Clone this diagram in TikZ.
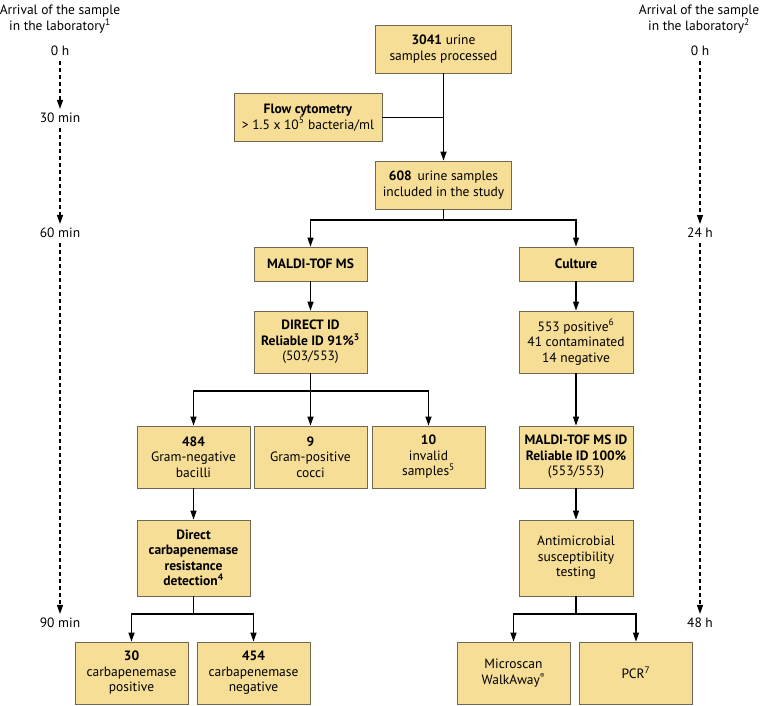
\documentclass[tikz,border=0pt]{standalone}
\usepackage{fontspec}
\setmainfont{PT Sans}
\usetikzlibrary{arrows.meta}
\definecolor{boxfill}{RGB}{246,222,150}
\definecolor{boxline}{RGB}{110,104,84}
\begin{document}
\begin{tikzpicture}[x=1pt,y=-1pt,
  every node/.style={font=\fontsize{13.5}{15.5}\selectfont, inner sep=0pt},
  box/.style={draw=boxline, line width=0.8pt, fill=boxfill, align=center, minimum width=113pt},
  arr/.style={line width=1.2pt, -{Triangle[length=9pt,width=6pt]}},
  conn/.style={line width=1.2pt},
  tarr/.style={line width=1.2pt, dash pattern=on 4pt off 3pt, -{Triangle[length=9pt,width=6pt]}},
  lbl/.style={align=center, font=\fontsize{13.5}{16}\selectfont}]
\useasboundingbox (0,0) rectangle (760,705);
% timelines
\node[lbl] (lt) at (60,19) {Arrival of the sample\\in the laboratory\textsuperscript{1}};
\node[lbl] (rt) at (699,19) {Arrival of the sample\\in the laboratory\textsuperscript{2}};
\node (l0) at (60,51) {0 h};
\node (l30) at (60,118) {30 min};
\node (l60) at (60,233) {60 min};
\node (l90) at (60,623) {90 min};
\node (r0) at (700,51) {0 h};
\node (r24) at (700,233) {24 h};
\node (r48) at (700,623) {48 h};
\draw[tarr] ([yshift=-5pt]l0.south) -- ([yshift=4pt]l30.north);
\draw[tarr] ([yshift=-5pt]l30.south) -- ([yshift=4pt]l60.north);
\draw[tarr] ([yshift=-5pt]l60.south) -- ([yshift=4pt]l90.north);
\draw[tarr] ([yshift=-5pt]r0.south) -- ([yshift=4pt]r24.north);
\draw[tarr] ([yshift=-5pt]r24.south) -- ([yshift=4pt]r48.north);
% boxes
\node[box, minimum width=136pt, minimum height=48pt] (top) at (443.5,49) {\textbf{3041} urine\\samples processed};
\node[box, minimum width=148pt, minimum height=48pt] (flow) at (308,117.5) {\textbf{Flow cytometry}\\> 1.5 x 10\textsuperscript{5} bacteria/ml};
\node[box, minimum width=136pt, minimum height=48pt] (s608) at (443.5,185) {\textbf{608}\, urine samples\\included in the study};
\node[box, minimum height=34pt] (maldi) at (310.5,264) {\textbf{MALDI-TOF MS}};
\node[box, minimum width=114pt, minimum height=34pt] (cult) at (576,264) {\textbf{Culture}};
\node[box, minimum height=62pt] (direct) at (310.5,342) {\textbf{DIRECT ID}\\\textbf{Reliable ID 91\%\textsuperscript{3}}\\(503/553)};
\node[box, minimum width=114pt, minimum height=62pt] (pos) at (576,342) {553 positive\textsuperscript{6}\\41 contaminated\\14 negative};
\node[box, minimum height=62pt] (gn) at (193.5,457) {\textbf{484}\\Gram-negative\\bacilli};
\node[box, minimum height=62pt] (gp) at (310.5,457) {\textbf{9}\\Gram-positive\\cocci};
\node[box, minimum height=62pt] (inv) at (428.5,457) {\textbf{10}\\invalid\\samples\textsuperscript{5}};
\node[box, minimum width=114pt, minimum height=62pt] (mid) at (576,457) {\textbf{MALDI-TOF MS ID}\\\textbf{Reliable ID 100\%}\\(553/553)};
\node[box, minimum height=76pt] (carb) at (193.5,558) {\textbf{Direct}\\\textbf{carbapenemase}\\\textbf{resistance}\\\textbf{detection\textsuperscript{4}}};
\node[box, minimum width=114pt, minimum height=76pt] (ast) at (576,558) {Antimicrobial\\susceptibility\\testing};
\node[box, minimum height=62pt] (c30) at (131.5,673) {\textbf{30}\\carbapenemase\\positive};
\node[box, minimum height=62pt] (c454) at (253.5,673) {\textbf{454}\\carbapenemase\\negative};
\node[box, minimum height=62pt] (micro) at (513.5,673) {Microscan\\WalkAway\textsuperscript{\scriptsize ®}};
\node[box, minimum height=62pt] (pcr) at (636,673) {PCR\textsuperscript{7}};
% connectors
\coordinate (jf) at (443.5,117.5);
\coordinate (b1) at (443.5,220);
\coordinate (b2) at (310.5,391);
\coordinate (b3) at (193.5,614);
\coordinate (b4) at (576,614);
\draw[arr] (top.south) -- (s608.north);
\draw[conn] (flow.east) -- (jf);
\draw[conn] (s608.south) -- (b1);
\draw[arr] (b1) -| (maldi.north);
\draw[arr] (b1) -| (cult.north);
\draw[arr] (maldi.south) -- (direct.north);
\draw[arr] (cult.south) -- (pos.north);
\draw[conn] (direct.south) -- (b2);
\draw[arr] (b2) -| (gn.north);
\draw[arr] (b2) -- (gp.north);
\draw[arr] (b2) -| (inv.north);
\draw[arr] (pos.south) -- (mid.north);
\draw[arr] (gn.south) -- (carb.north);
\draw[arr] (mid.south) -- (ast.north);
\draw[conn] (carb.south) -- (b3);
\draw[arr] (b3) -| (c30.north);
\draw[arr] (b3) -| (c454.north);
\draw[conn] (ast.south) -- (b4);
\draw[arr] (b4) -| (micro.north);
\draw[arr] (b4) -| (pcr.north);
\end{tikzpicture}
\end{document}
